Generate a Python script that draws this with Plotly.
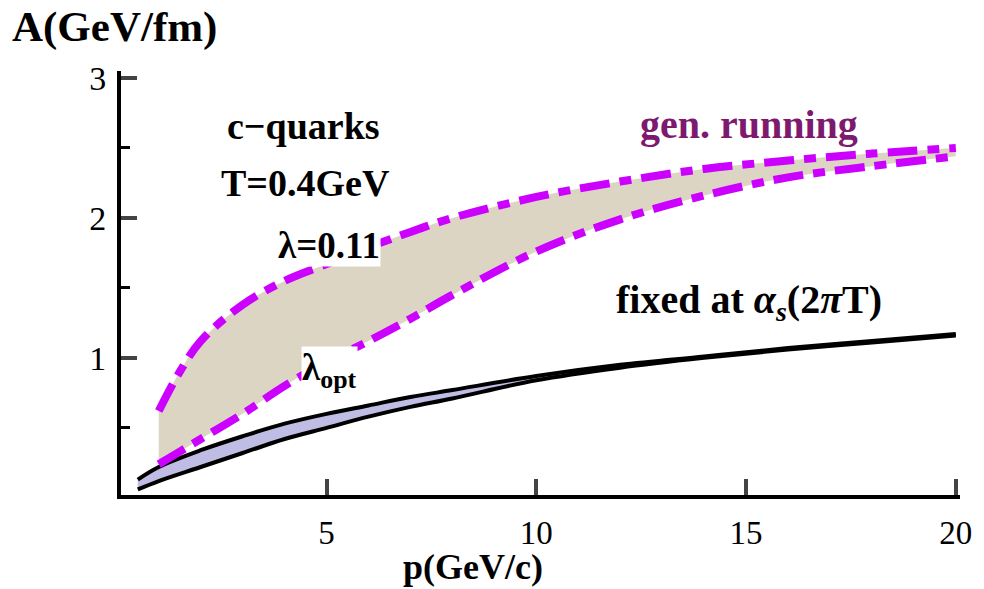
import plotly.graph_objects as go

# momentum grid and drag coefficient A (GeV/fm)
p_run = [1, 1.5, 2, 3, 4, 5, 6, 7, 8, 10, 12, 14, 16, 18, 20]
a_lambda011 = [0.62, 0.9, 1.12, 1.38, 1.55, 1.67, 1.79, 1.9, 2.0, 2.15, 2.26, 2.35, 2.41, 2.46, 2.5]
a_lambda_opt = [0.24, 0.33, 0.42, 0.6, 0.8, 0.97, 1.12, 1.28, 1.45, 1.76, 1.99, 2.16, 2.29, 2.37, 2.44]

p_fix = [0.5, 1, 2, 3, 4, 5, 6, 7, 8, 10, 12, 14, 16, 18, 20]
a_fix_hi = [0.13, 0.22, 0.34, 0.44, 0.53, 0.6, 0.66, 0.72, 0.77, 0.87, 0.95, 1.01, 1.07, 1.12, 1.17]
a_fix_lo = [0.06, 0.12, 0.22, 0.32, 0.42, 0.5, 0.58, 0.65, 0.71, 0.84, 0.93, 1.0, 1.06, 1.11, 1.16]

x_ticks = [5, 10, 15, 20]
y_ticks = [1, 2, 3]

MAG = "rgb(204,0,255)"
SERIF = "Liberation Serif, Times New Roman, serif"
dashdot = "30px,10px,12px,10px"

fig = go.Figure()

# shaded bands
fig.add_trace(go.Scatter(x=p_run, y=a_lambda_opt, mode="lines", line=dict(width=0, shape="spline"),
                         hoverinfo="skip", showlegend=False))
fig.add_trace(go.Scatter(x=p_run, y=a_lambda011, mode="lines", line=dict(width=0, shape="spline"),
                         fill="tonexty", fillcolor="rgb(221,213,195)", hoverinfo="skip", showlegend=False))
fig.add_trace(go.Scatter(x=p_fix, y=a_fix_lo, mode="lines", line=dict(width=0, shape="spline"),
                         hoverinfo="skip", showlegend=False))
fig.add_trace(go.Scatter(x=p_fix, y=a_fix_hi, mode="lines", line=dict(width=0, shape="spline"),
                         fill="tonexty", fillcolor="rgb(192,189,228)", hoverinfo="skip", showlegend=False))

# curves
for yy in (a_fix_lo, a_fix_hi):
    fig.add_trace(go.Scatter(x=p_fix, y=yy, mode="lines", showlegend=False,
                             line=dict(color="black", width=4, shape="spline")))
for yy in (a_lambda_opt, a_lambda011):
    fig.add_trace(go.Scatter(x=p_run, y=yy, mode="lines", showlegend=False,
                             line=dict(color=MAG, width=8, dash=dashdot, shape="spline")))

fig.update_xaxes(range=[0.1, 20.1], tickvals=x_ticks, ticks="inside", ticklen=16, tickwidth=4,
                 showline=True, linewidth=4, linecolor="black", showgrid=False, zeroline=False,
                 tickfont=dict(family=SERIF, size=33, color="black"), ticklabelstandoff=5)
fig.update_yaxes(range=[0.02, 3.05], tickvals=y_ticks, ticks="inside", ticklen=16, tickwidth=4,
                 showline=True, linewidth=4, linecolor="black", showgrid=False, zeroline=False,
                 minor=dict(tickvals=[0.5, 1.5, 2.5], ticks="inside", ticklen=9, tickwidth=3, tickcolor="black"),
                 tickfont=dict(family=SERIF, size=34, color="black"), ticklabelstandoff=4)

bold = dict(family=SERIF, size=38, color="black")
annots = [
    dict(x=-0.132, y=1.165, xref="paper", yref="paper", text="<b>A(GeV/fm)</b>", xanchor="left", yanchor="top",
         font=dict(family=SERIF, size=43, color="black")),
    dict(x=0.42, y=-0.222, xref="paper", yref="paper", text="<b>p(GeV/c)</b>", xanchor="center", yanchor="bottom",
         font=dict(family=SERIF, size=36, color="black")),
    dict(x=4.46, y=2.66, text="<b>c\u2212quarks</b>", font=bold),
    dict(x=4.5, y=2.25, text="<b>T=0.4GeV</b>", font=bold),
    dict(x=15.06, y=2.67, text="<b>gen. running</b>", font=dict(family=SERIF, size=40, color="rgb(125,25,110)")),
    dict(x=5.06, y=1.8, text="<b>\u03bb=0.11</b>", font=dict(family=SERIF, size=37, color="black"),
         bgcolor="white", borderpad=0),
    dict(x=5.06, y=0.91, text="<b>\u03bb<sub>opt</sub></b>", font=dict(family=SERIF, size=37, color="black"),
         bgcolor="white", borderpad=0),
    dict(x=15.06, y=1.4, text="<b>fixed at <i>\u03b1</i><sub><i>s</i></sub>(2<i>\u03c0</i>T)</b>",
         font=dict(family=SERIF, size=40, color="black")),
]
for a in annots:
    a.setdefault("showarrow", False)
fig.update_layout(annotations=annots)

fig.update_layout(width=984, height=589, plot_bgcolor="white", paper_bgcolor="white",
                  margin=dict(l=121, r=19, t=71, b=94), showlegend=False)

fig.write_html("out.html", config={"displayModeBar": False},
               post_script="document.body.style.margin='0';document.body.style.overflow='hidden';")
